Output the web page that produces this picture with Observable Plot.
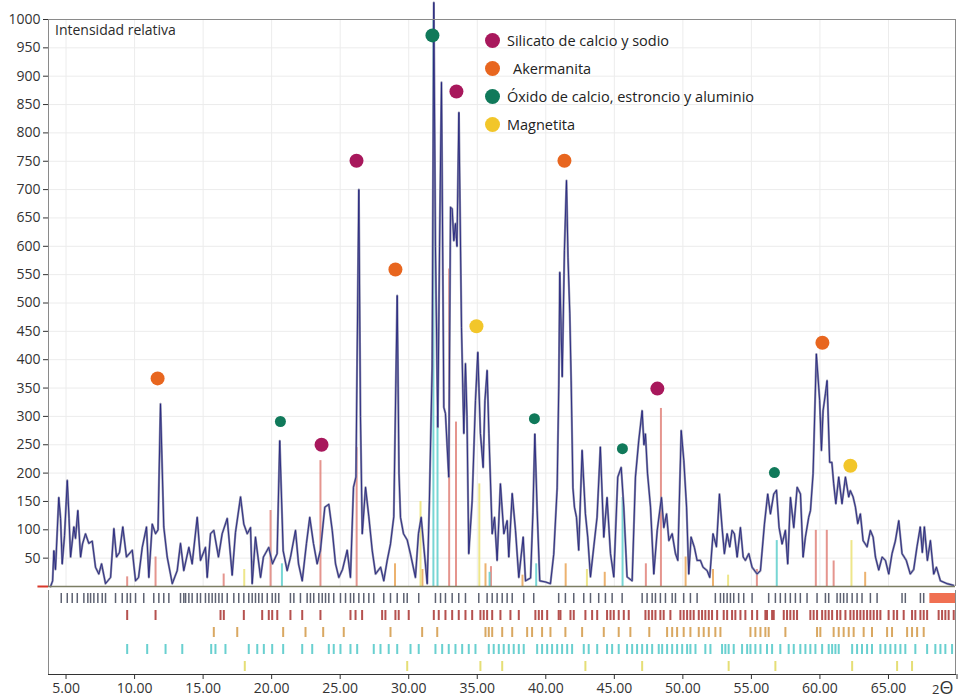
<!DOCTYPE html>
<html lang="es">
<head>
<meta charset="utf-8">
<title>Difractograma de rayos X</title>
<script src="https://cdn.jsdelivr.net/npm/d3@7"></script>
<script src="https://cdn.jsdelivr.net/npm/@observablehq/plot@0.6"></script>
<style>
  body { margin: 0; background: #fff; }
  #chart { position: relative; width: 964px; height: 700px; font-family: "Open Sans", "Noto Sans", sans-serif; color: #2b2b2b; }
  #chart svg { display: block; overflow: visible; }
  .ylabel { position: absolute; left: 55px; top: 20px; font-size: 14px; color: #2b2b2b; }
  .legend { position: absolute; left: 485px; top: 26px; font-size: 14.5px; color: #222; }
  .legend div { height: 28.2px; display: flex; align-items: center; }
  .legend span.dot { display: inline-block; width: 15px; height: 15px; border-radius: 50%; margin-right: 7px; }
  .twotheta { position: absolute; left: 932px; top: 675px; color: #333; white-space: nowrap; }
  .twotheta .n { font-size: 13px; }
  .twotheta .t { font-size: 18px; }
</style>
</head>
<body>
<div id="chart">
  <div id="pattern"></div>
  <div id="cards"></div>
  <div class="ylabel">Intensidad relativa</div>
  <div class="legend" id="legend"></div>
  <div class="twotheta"><span class="n">2</span><span class="t">Θ</span></div>
</div>
<script>
// Measured pattern: 2θ (degrees) and relative intensity
const theta = [3.87,4.02,4.11,4.23,4.47,4.60,4.72,4.89,5.09,5.22,5.33,5.57,5.69,5.86,6.06,6.20,6.42,6.66,6.91,7.15,7.39,7.59,7.88,8.25,8.49,8.68,8.90,9.14,9.41,9.83,10.07,10.29,10.56,10.87,11.04,11.29,11.53,11.71,11.89,12.13,12.38,12.75,13.11,13.35,13.59,13.96,14.20,14.57,14.81,15.17,15.30,15.54,15.78,16.12,16.39,16.76,17.12,17.36,17.73,17.97,18.22,18.46,18.58,18.82,19.19,19.40,19.79,20.06,20.40,20.59,20.84,21.13,21.37,21.74,21.96,22.23,22.54,22.78,23.05,23.32,23.56,23.88,24.17,24.42,24.66,24.90,25.17,25.51,25.75,25.97,26.15,26.36,26.48,26.61,26.85,27.09,27.34,27.58,27.95,28.18,28.43,28.67,28.91,29.16,29.29,29.40,29.62,29.89,30.13,30.49,30.71,30.91,31.10,31.35,31.51,31.71,31.83,31.95,32.12,32.25,32.39,32.56,32.68,32.92,33.05,33.17,33.29,33.41,33.52,33.66,33.85,34.02,34.14,34.25,34.38,34.63,34.87,35.04,35.23,35.43,35.56,35.72,35.85,36.09,36.26,36.45,36.69,36.94,37.18,37.30,37.55,37.79,38.03,38.35,38.52,38.89,39.06,39.20,39.37,39.56,39.98,40.34,40.58,40.83,40.95,41.02,41.20,41.36,41.51,41.62,41.75,41.85,41.98,42.09,42.24,42.40,42.65,42.89,43.06,43.26,43.50,43.74,43.98,44.23,44.47,44.72,44.96,45.25,45.50,45.69,45.93,46.30,46.54,46.78,47.03,47.16,47.27,47.42,47.64,47.88,48.13,48.44,48.61,48.81,48.98,49.22,49.46,49.63,49.88,50.07,50.27,50.43,50.60,50.84,51.04,51.28,51.47,51.77,51.96,52.20,52.45,52.67,52.86,53.03,53.23,53.42,53.59,53.76,53.96,54.20,54.40,54.56,54.81,55.05,55.42,55.66,55.95,56.19,56.39,56.63,56.83,57.02,57.24,57.48,57.65,57.85,58.09,58.34,58.58,58.77,58.94,59.18,59.31,59.50,59.74,59.98,60.11,60.23,60.40,60.52,60.71,60.87,61.00,61.16,61.37,61.61,61.86,62.10,62.22,62.42,62.59,62.76,62.95,63.15,63.44,63.68,63.88,64.05,64.29,64.54,64.78,65.02,65.26,65.50,65.75,65.99,66.30,66.59,66.84,67.08,67.32,67.47,67.62,67.84,68.06,68.30,68.50,68.79,69.28,69.74];
const intensity = [0,10,63,30,157,120,40,90,187,120,52,105,85,134,52,75,93,76,80,34,22,40,5,16,102,52,60,105,52,64,10,16,69,105,16,110,93,100,322,105,52,5,28,76,28,69,40,122,46,69,16,93,99,52,93,120,20,95,158,110,93,104,5,87,16,52,69,40,58,257,63,28,51,99,40,10,76,122,76,40,64,140,145,99,40,16,30,64,16,175,193,700,300,93,175,123,63,22,34,10,46,75,123,513,200,122,93,82,57,16,93,122,70,5,152,387,1030,600,281,600,889,316,305,193,669,666,610,640,600,836,457,270,393,300,58,152,328,413,270,210,328,381,270,93,122,46,181,93,116,52,164,99,16,87,10,15,130,269,134,10,8,5,57,174,357,554,370,593,716,580,482,364,174,140,122,64,240,128,87,17,70,122,246,87,157,58,17,193,210,140,17,10,193,257,310,250,269,200,140,22,99,157,104,128,81,93,58,46,275,222,140,22,87,69,46,46,34,28,16,93,70,163,104,58,93,70,99,93,52,104,52,46,58,34,22,28,110,163,128,163,170,104,75,99,40,157,104,175,163,52,87,122,134,199,410,328,240,310,340,363,219,219,182,146,193,146,193,158,169,158,140,111,128,81,70,99,87,52,29,52,46,22,58,80,116,58,46,22,30,70,105,60,105,46,81,22,34,10,5,2];

// Phases
const phaseKeys = ["S", "A", "O", "M"];
const phaseNames = ["Silicato de calcio y sodio", "Akermanita", "Óxido de calcio, estroncio y aluminio", "Magnetita"];

// Identified peaks (marker per phase)
const markerPhase = ["A","O","S","S","A","O","S","M","O","A","O","S","O","A","M"];
const markerTheta = [11.68,20.64,23.64,26.19,29.03,31.73,33.48,34.94,39.17,41.36,45.59,48.14,56.68,60.18,62.22];
const markerLevel = [367,291,250,751,559,972,873,459,296,751,243,349,201,430,213];

// Reference lines of each phase drawn inside the pattern
const stickPhase = ["S","S","S","S","S","S","S","S","S","S","S","S","S","S","S","A","A","A","A","A","A","A","A","A","O","O","O","O","O","O","O","M","M","M","M","M","M"];
const stickTheta = [9.46,11.53,16.50,19.92,23.56,26.20,32.95,33.45,48.40,59.70,60.50,47.30,61.00,55.40,36.00,29.00,31.00,35.60,41.45,50.20,52.20,44.30,38.30,63.30,20.75,31.80,32.10,39.30,45.60,56.85,35.90,18.00,30.86,35.15,43.00,53.30,62.30];
const stickLevel = [17,52,22,134,222,245,560,290,314,99,99,40,45,30,35,40,30,40,40,52,30,25,20,25,40,1000,300,40,157,81,25,30,150,181,30,20,81];

// Line positions (2θ) listed below the pattern, one row per card
const rowNames = ["Patrón", "S", "A", "O", "M"];
const rowPattern = [4.65,5.09,5.45,5.82,6.30,6.59,6.79,7.03,7.32,7.64,7.88,8.61,9.10,9.46,9.70,10.07,10.67,11.40,11.77,12.13,12.50,13.35,13.59,13.72,13.96,14.20,14.57,14.81,15.17,15.42,15.66,15.90,16.15,16.39,16.76,17.24,17.60,17.97,18.33,18.58,18.82,19.06,19.31,19.68,20.04,20.28,20.52,21.37,21.62,22.10,22.59,22.83,23.07,23.44,23.69,23.93,24.17,24.53,25.02,25.39,25.75,25.99,26.36,26.72,27.09,27.45,28.18,28.67,29.16,29.64,29.89,30.73,31.95,32.32,32.68,33.17,33.65,34.14,35.11,35.72,36.09,36.45,36.82,37.18,37.55,38.39,39.12,40.94,41.43,42.04,42.77,43.26,43.86,44.35,44.84,45.57,47.03,47.39,47.76,48.00,48.36,48.73,49.22,49.46,50.06,50.55,51.04,52.37,52.74,52.98,53.23,53.47,53.71,54.07,54.44,55.05,56.26,56.75,57.11,57.48,57.84,58.21,58.57,59.06,59.79,60.40,60.64,61.25,61.49,61.73,61.98,62.35,62.71,63.07,63.68,64.17,65.99,66.23,67.33,67.57];
const rowPatternBlock = [68.02, 69.89];
const rowSilicato = [9.46,11.53,16.27,16.51,17.97,19.31,19.79,20.04,20.41,21.37,22.23,23.56,25.75,26.12,26.60,28.06,28.30,29.03,29.27,30.00,31.83,32.19,32.68,33.17,33.65,34.14,34.63,35.23,35.47,35.72,36.09,36.69,37.42,38.03,39.24,39.49,39.73,40.10,40.94,41.07,41.80,42.04,42.89,43.38,43.75,44.47,44.72,44.96,45.32,45.69,46.05,47.27,47.51,47.76,48.00,48.36,48.60,49.09,49.82,50.06,50.31,50.55,50.79,51.16,51.40,51.64,51.89,52.13,52.50,52.98,53.23,53.59,53.83,54.20,54.56,55.05,55.42,56.02,56.14,56.51,56.63,57.36,57.60,57.84,58.09,58.33,59.30,59.54,59.79,60.16,60.40,60.64,60.89,61.25,61.49,61.86,62.22,62.46,62.71,62.95,63.19,63.44,63.68,63.92,64.17,64.41,65.01,65.38,65.63,66.11,66.72,66.96,67.33,67.57,67.82,68.66,68.91,69.15,69.39,69.76];
const rowAkermanita = [15.78,17.49,20.84,22.47,23.76,25.26,28.67,30.98,32.08,35.60,35.84,36.09,36.82,37.55,38.64,39.00,39.73,40.34,41.43,42.65,44.23,45.32,46.17,47.55,48.85,49.22,49.58,50.06,50.55,51.16,51.52,51.89,52.37,52.74,54.93,55.29,55.66,56.02,56.26,57.48,59.79,60.03,61.00,61.37,61.73,62.10,62.46,63.19,63.80,64.90,65.26,66.36,66.72,67.09,67.57];
const rowOxido = [9.46,10.92,12.26,13.48,15.59,15.90,16.63,18.33,18.95,19.43,20.04,20.84,22.23,22.96,24.17,24.53,25.02,25.75,26.24,27.45,27.94,28.54,29.16,30.13,30.73,31.95,32.44,32.92,33.41,33.90,34.38,34.87,35.84,36.20,36.57,36.93,37.30,37.66,38.03,38.39,39.37,39.73,40.10,40.46,40.83,41.19,41.56,41.92,42.77,43.13,43.75,44.47,44.84,45.32,45.93,46.30,46.66,47.03,47.39,47.76,48.24,48.49,48.85,49.22,49.58,49.95,50.31,50.55,50.92,51.64,52.01,52.86,53.10,53.34,53.71,54.32,54.69,54.93,55.29,55.66,56.14,56.51,57.11,57.72,58.09,58.57,58.94,59.30,59.67,60.16,60.64,60.89,61.13,61.37,62.35,62.71,63.07,63.44,63.80,64.41,64.77,65.14,65.50,65.87,66.23,66.96,67.82,68.42,68.79,69.15,69.64];
const rowMagnetita = [18.04,29.89,35.23,36.82,42.89,47.03,53.34,56.75,62.35,65.63,66.72];

// Axis ticks
const yTicks = d3.range(50, 1001, 50);
const xTicks = d3.range(5, 71, 5);
const xDomain = [3.72, 69.89];
const startMarker = [2.95, 3.72];

// Colours
const markerColor = {S: "#a8185c", A: "#e8661f", O: "#10795a", M: "#f2c62a"};
const stickColor = {S: "#e0837a", A: "#e9a456", O: "#5fcfcc", M: "#ebe276"};
const rowColor = {"Patrón": "#5e6272", S: "#b5514f", A: "#d9a862", O: "#69d0d0", M: "#e5de76"};
const frameColor = "#8a8a8a";

const trace = theta.map((t, i) => ({t, v: intensity[i]}));
const markers = markerTheta.map((t, i) => ({t, v: markerLevel[i], p: markerPhase[i]}));
const sticks = stickTheta.map((t, i) => ({t, v: stickLevel[i], p: stickPhase[i]}));
const rows = [
  ...rowPattern.map(t => ({t, r: "Patrón"})),
  ...rowSilicato.map(t => ({t, r: "S"})),
  ...rowAkermanita.map(t => ({t, r: "A"})),
  ...rowOxido.map(t => ({t, r: "O"})),
  ...rowMagnetita.map(t => ({t, r: "M"}))
];
// the small green markers sit over the minor oxide peaks
const isMinor = d => d.p === "O" && d.v < 900;

const font = {fontFamily: "'Open Sans', 'Noto Sans', sans-serif", fontSize: "14px", color: "#333", background: "transparent", overflow: "visible"};

const patternPlot = Plot.plot({
  width: 964, height: 588,
  marginLeft: 48, marginRight: 9, marginTop: 19, marginBottom: 2,
  style: font,
  x: {domain: xDomain, axis: null},
  y: {domain: [0, 1000], ticks: yTicks, tickFormat: "d", tickSize: 5, tickPadding: 3, label: null},
  marks: [
    Plot.ruleY(yTicks, {stroke: "#ececec"}),
    Plot.ruleX(xTicks.filter(d => d < 70), {stroke: "#ececec"}),
    Plot.ruleX(sticks, {x: "t", y1: 0, y2: "v", stroke: d => stickColor[d.p], strokeWidth: 2, strokeOpacity: 0.85}),
    Plot.line(trace, {x: "t", y: "v", stroke: "#8e8fab", strokeWidth: 2.2}),
    Plot.line(trace, {x: "t", y: "v", stroke: "#25257f", strokeWidth: 0.9}),
    Plot.ruleY([0], {stroke: "#7b7d63", strokeWidth: 1.4}),
    Plot.ruleY([0], {x1: startMarker[0], x2: startMarker[1], stroke: "#d8392b", strokeWidth: 2}),
    Plot.ruleX([xDomain[0], xDomain[1]], {stroke: frameColor}),
    Plot.ruleY([1000], {stroke: frameColor}),
    Plot.dot(markers.filter(d => !isMinor(d)), {x: "t", y: "v", fill: d => markerColor[d.p], r: 7}),
    Plot.dot(markers.filter(isMinor), {x: "t", y: "v", fill: d => markerColor[d.p], r: 5.5})
  ]
});

const cardsPlot = Plot.plot({
  width: 964, height: 112,
  marginLeft: 48, marginRight: 9, marginTop: 2, marginBottom: 26,
  style: font,
  x: {domain: xDomain, ticks: xTicks, tickFormat: d => d === 70 ? "" : d.toFixed(2), tickSize: 5, tickPadding: 4, label: null, line: true},
  y: {domain: rowNames, axis: null, paddingInner: 0.385, paddingOuter: 0.04},
  marks: [
    Plot.tickX(rows, {x: "t", y: "r", stroke: d => rowColor[d.r], strokeWidth: d => d.r === "Patrón" ? 1.5 : 2}),
    Plot.barX([{x1: rowPatternBlock[0], x2: rowPatternBlock[1], r: "Patrón"}], {x1: "x1", x2: "x2", y: "r", fill: "#f07052"}),
    Plot.ruleX([xDomain[0], xDomain[1]], {stroke: frameColor})
  ]
});

document.getElementById("pattern").append(patternPlot);
document.getElementById("cards").append(cardsPlot);

// Legend of identified phases
const legend = document.getElementById("legend");
phaseKeys.forEach((k, i) => {
  const row = document.createElement("div");
  const dot = document.createElement("span");
  dot.className = "dot";
  dot.style.background = markerColor[k];
  const label = document.createElement("span");
  label.textContent = phaseNames[i];
  if (k === "A") label.style.marginLeft = "6px";
  row.append(dot, label);
  legend.append(row);
});
</script>
</body>
</html>
